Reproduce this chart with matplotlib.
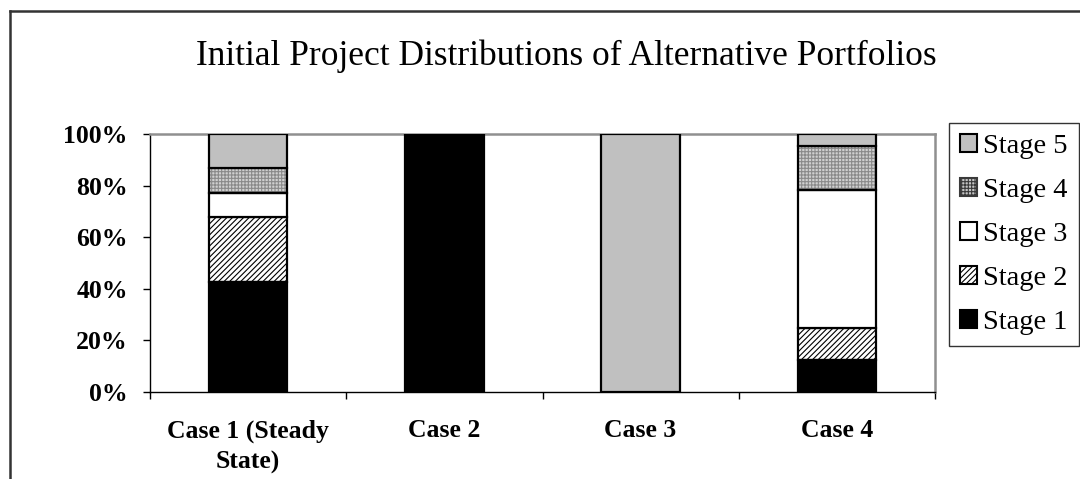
import numpy as np
import matplotlib
matplotlib.use("Agg")
import matplotlib.pyplot as plt
from matplotlib.lines import Line2D
from matplotlib.patches import Patch

plt.rcParams['font.family'] = ['Liberation Serif', 'DejaVu Serif']
plt.rcParams['hatch.linewidth'] = 0.8

categories = ["Case 1 (Steady\nState)", "Case 2", "Case 3", "Case 4"]
stages = ["Stage 1", "Stage 2", "Stage 3", "Stage 4", "Stage 5"]
stage1 = [42.7, 100.0, 0.0, 12.3]
stage2 = [25.3, 0.0, 0.0, 12.3]
stage3 = [9.1, 0.0, 0.0, 53.8]
stage4 = [9.7, 0.0, 0.0, 17.2]
stage5 = [13.2, 0.0, 100.0, 4.4]
yticks = [0, 20, 40, 60, 80, 100]
ytick_labels = ["0%", "20%", "40%", "60%", "80%", "100%"]
title = "Initial Project Distributions of Alternative Portfolios"

series = [stage1, stage2, stage3, stage4, stage5]
faces = ["black", "white", "white", "#d0d0d0", "#c0c0c0"]
hatches = [None, "//////", None, "+++++", None]
hatch_cols = [None, "black", None, "#8a8a8a", None]

W, H = 1080, 479
fig = plt.figure(figsize=(W / 100, H / 100), dpi=100)
ax = fig.add_axes([150 / W, 1 - 391.7 / H, (935 - 150) / W, (391.7 - 134.3) / H])

x = np.arange(len(categories))
bottom = np.zeros(len(categories))
width = 0.40
for vals, fc, hc, hcol in zip(series, faces, hatches, hatch_cols):
    vals = np.array(vals)
    if hc:
        ax.bar(x, vals, width, bottom=bottom, color=fc, hatch=hc, edgecolor=hcol, linewidth=0, zorder=2)
        ax.bar(x, vals, width, bottom=bottom, fill=False, edgecolor="black", linewidth=1.6, zorder=3)
    else:
        ax.bar(x, vals, width, bottom=bottom, color=fc, edgecolor="black", linewidth=1.6, zorder=3)
    bottom += vals

ax.set_xlim(-0.5, len(categories) - 0.5)
ax.set_ylim(0, 100)
ax.set_yticks(yticks)
ax.set_yticklabels(ytick_labels, fontsize=18.5, fontweight="bold")
ax.tick_params(axis="y", direction="out", length=5, width=1, pad=11)
ax.set_xticks(x)
ax.set_xticklabels(categories, fontsize=18.5, fontweight="bold", linespacing=1.4)
ax.tick_params(axis="x", which="major", length=0, pad=20)
ax.set_xticks(np.arange(-0.5, len(categories)), minor=True)
ax.tick_params(axis="x", which="minor", direction="out", length=5, width=1)

for s in ["top", "right"]:
    ax.spines[s].set_color("#909090")
    ax.spines[s].set_linewidth(1.8)
ax.spines["left"].set_linewidth(1.0)
ax.spines["bottom"].set_linewidth(1.0)

fig.text(566 / W, 1 - 56 / H, title, ha="center", va="center", fontsize=25.5)

handles = [Patch(facecolor=fc, hatch=hc, edgecolor="black", linewidth=1.5)
           for fc, hc in zip(faces, hatches)]
handles[3] = Patch(facecolor="#c4c4c4", hatch="+++++", edgecolor="#3a3a3a", linewidth=1.5)
leg = fig.legend(handles[::-1], stages[::-1], loc="upper left",
                 bbox_to_anchor=(949 / W, 1 - 123 / H), borderaxespad=0,
                 fontsize=20.5, frameon=True, fancybox=False, edgecolor="black",
                 handlelength=0.6, handleheight=0.6, handletextpad=0.2,
                 labelspacing=0.66, borderpad=0.4)
leg.get_frame().set_linewidth(1.0)

fig.add_artist(Line2D([10 / W, 10 / W], [1 - 11 / H, 0], color="#333333", linewidth=1.8))
fig.add_artist(Line2D([10 / W, 1], [1 - 11 / H, 1 - 11 / H], color="#333333", linewidth=1.8))

fig.savefig("out.png", dpi=100)
